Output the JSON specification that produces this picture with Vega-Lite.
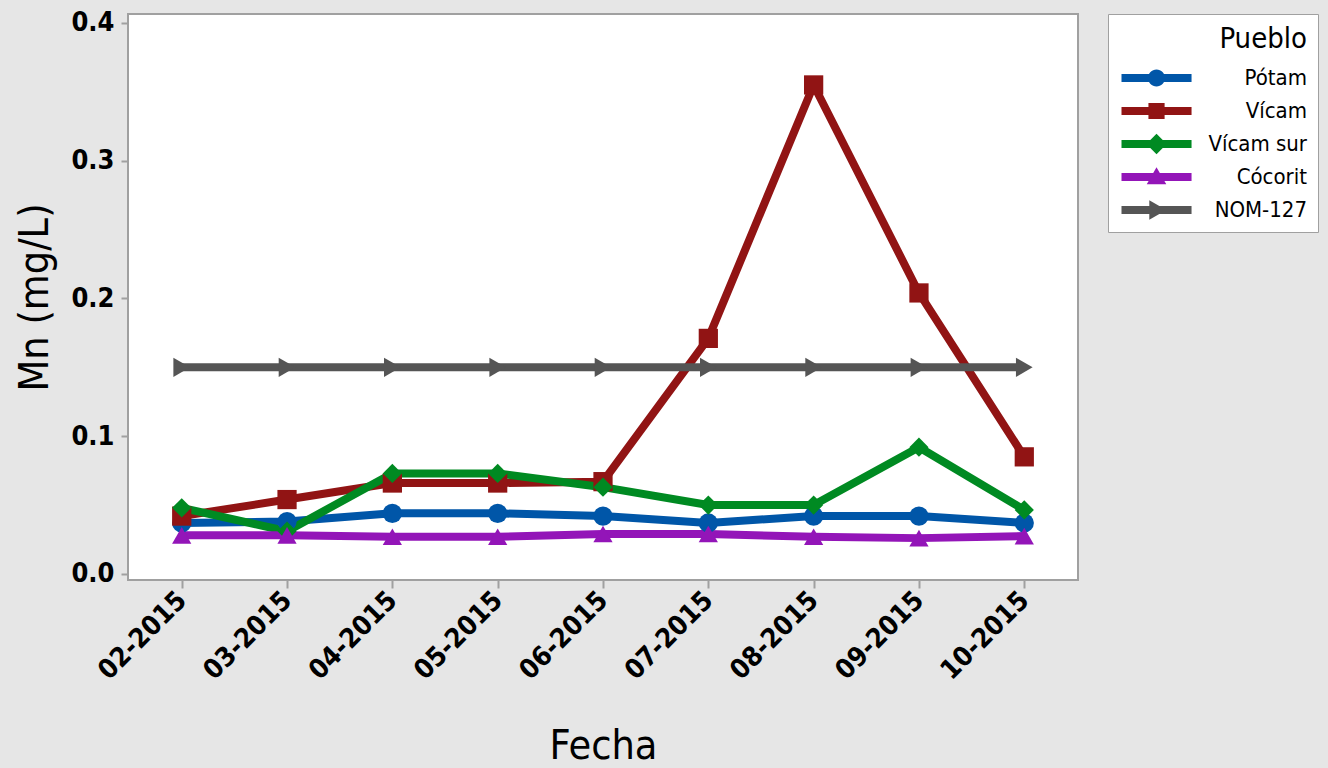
{
  "$schema": "https://vega.github.io/schema/vega-lite/v6.json",
  "width": 950,
  "height": 566,
  "autosize": {"type": "none"},
  "padding": {"left": 128, "top": 14, "right": 250, "bottom": 188},
  "background": "#e6e6e6",
  "config": {
    "view": {"fill": "white", "stroke": "#a0a0a0", "strokeWidth": 2},
    "font": "DejaVu Sans Condensed",
    "legend": {
      "orient": "right",
      "offset": 30,
      "padding": 11,
      "strokeColor": "#a0a0a0",
      "fillColor": "white",
      "titleFont": "DejaVu Sans Condensed",
      "titleFontSize": 29,
      "titleFontWeight": "normal",
      "titleColor": "black",
      "titleAlign": "right",
      "titleAnchor": "end",
      "titlePadding": 13,
      "labelFont": "DejaVu Sans Condensed",
      "labelFontSize": 22,
      "labelColor": "black",
      "labelAlign": "right",
      "labelOffset": 166,
      "symbolSize": 289,
      "symbolOpacity": 1,
      "symbolStrokeWidth": 0,
      "rowPadding": 11
    }
  },
  "data": {
    "values": [
      {"Fecha": "02-2015", "Pueblo": "Pótam", "Mn": 0.037},
      {"Fecha": "03-2015", "Pueblo": "Pótam", "Mn": 0.038},
      {"Fecha": "04-2015", "Pueblo": "Pótam", "Mn": 0.044},
      {"Fecha": "05-2015", "Pueblo": "Pótam", "Mn": 0.044},
      {"Fecha": "06-2015", "Pueblo": "Pótam", "Mn": 0.042},
      {"Fecha": "07-2015", "Pueblo": "Pótam", "Mn": 0.037},
      {"Fecha": "08-2015", "Pueblo": "Pótam", "Mn": 0.042},
      {"Fecha": "09-2015", "Pueblo": "Pótam", "Mn": 0.042},
      {"Fecha": "10-2015", "Pueblo": "Pótam", "Mn": 0.037},
      {"Fecha": "02-2015", "Pueblo": "Vícam", "Mn": 0.042},
      {"Fecha": "03-2015", "Pueblo": "Vícam", "Mn": 0.054},
      {"Fecha": "04-2015", "Pueblo": "Vícam", "Mn": 0.066},
      {"Fecha": "05-2015", "Pueblo": "Vícam", "Mn": 0.066},
      {"Fecha": "06-2015", "Pueblo": "Vícam", "Mn": 0.067},
      {"Fecha": "07-2015", "Pueblo": "Vícam", "Mn": 0.171},
      {"Fecha": "08-2015", "Pueblo": "Vícam", "Mn": 0.355},
      {"Fecha": "09-2015", "Pueblo": "Vícam", "Mn": 0.204},
      {"Fecha": "10-2015", "Pueblo": "Vícam", "Mn": 0.085},
      {"Fecha": "02-2015", "Pueblo": "Vícam sur", "Mn": 0.048},
      {"Fecha": "03-2015", "Pueblo": "Vícam sur", "Mn": 0.031},
      {"Fecha": "04-2015", "Pueblo": "Vícam sur", "Mn": 0.073},
      {"Fecha": "05-2015", "Pueblo": "Vícam sur", "Mn": 0.073},
      {"Fecha": "06-2015", "Pueblo": "Vícam sur", "Mn": 0.063},
      {"Fecha": "07-2015", "Pueblo": "Vícam sur", "Mn": 0.050},
      {"Fecha": "08-2015", "Pueblo": "Vícam sur", "Mn": 0.050},
      {"Fecha": "09-2015", "Pueblo": "Vícam sur", "Mn": 0.092},
      {"Fecha": "10-2015", "Pueblo": "Vícam sur", "Mn": 0.0465},
      {"Fecha": "02-2015", "Pueblo": "Cócorit", "Mn": 0.028},
      {"Fecha": "03-2015", "Pueblo": "Cócorit", "Mn": 0.028},
      {"Fecha": "04-2015", "Pueblo": "Cócorit", "Mn": 0.027},
      {"Fecha": "05-2015", "Pueblo": "Cócorit", "Mn": 0.027},
      {"Fecha": "06-2015", "Pueblo": "Cócorit", "Mn": 0.029},
      {"Fecha": "07-2015", "Pueblo": "Cócorit", "Mn": 0.029},
      {"Fecha": "08-2015", "Pueblo": "Cócorit", "Mn": 0.027},
      {"Fecha": "09-2015", "Pueblo": "Cócorit", "Mn": 0.026},
      {"Fecha": "10-2015", "Pueblo": "Cócorit", "Mn": 0.0275},
      {"Fecha": "02-2015", "Pueblo": "NOM-127", "Mn": 0.15},
      {"Fecha": "03-2015", "Pueblo": "NOM-127", "Mn": 0.15},
      {"Fecha": "04-2015", "Pueblo": "NOM-127", "Mn": 0.15},
      {"Fecha": "05-2015", "Pueblo": "NOM-127", "Mn": 0.15},
      {"Fecha": "06-2015", "Pueblo": "NOM-127", "Mn": 0.15},
      {"Fecha": "07-2015", "Pueblo": "NOM-127", "Mn": 0.15},
      {"Fecha": "08-2015", "Pueblo": "NOM-127", "Mn": 0.15},
      {"Fecha": "09-2015", "Pueblo": "NOM-127", "Mn": 0.15},
      {"Fecha": "10-2015", "Pueblo": "NOM-127", "Mn": 0.15}
    ]
  },
  "encoding": {
    "x": {
      "field": "Fecha",
      "type": "ordinal",
      "sort": null,
      "scale": {"type": "point", "padding": 0.51},
      "axis": {
        "title": "Fecha",
        "grid": false,
        "domain": false,
        "tickColor": "#a0a0a0",
        "tickWidth": 2,
        "tickSize": 8,
        "labelAngle": -45,
        "labelAlign": "right",
        "labelBaseline": "middle",
        "labelPadding": 8,
        "labelFont": "DejaVu Sans Condensed",
        "labelFontWeight": "bold",
        "labelFontSize": 27,
        "labelColor": "black",
        "titleFont": "DejaVu Sans Condensed",
        "titleFontSize": 41,
        "titleFontWeight": "normal",
        "titleColor": "black",
        "titlePadding": 42
      }
    },
    "y": {
      "field": "Mn",
      "type": "quantitative",
      "scale": {"domain": [-0.0044, 0.4065], "nice": false, "zero": false},
      "axis": {
        "title": "Mn (mg/L)",
        "grid": false,
        "domain": false,
        "values": [0, 0.1, 0.2, 0.3, 0.4],
        "format": ".1f",
        "tickColor": "#a0a0a0",
        "tickWidth": 2,
        "tickSize": 7,
        "labelPadding": 7,
        "labelFont": "DejaVu Sans Condensed",
        "labelFontWeight": "bold",
        "labelFontSize": 27,
        "labelColor": "black",
        "titleFont": "DejaVu Sans Condensed",
        "titleFontSize": 41,
        "titleFontWeight": "normal",
        "titleColor": "black",
        "titlePadding": 14
      }
    }
  },
  "layer": [
    {
      "mark": {"type": "point", "filled": true, "opacity": 0},
      "encoding": {
        "color": {
          "field": "Pueblo",
          "type": "nominal",
          "title": "Pueblo",
          "scale": {
            "domain": ["Pótam", "Vícam", "Vícam sur", "Cócorit", "NOM-127"],
            "range": ["#0056a8", "#911414", "#008a22", "#9315b8", "#555555"]
          }
        },
        "shape": {
          "field": "Pueblo",
          "type": "nominal",
          "title": "Pueblo",
          "scale": {
            "domain": ["Pótam", "Vícam", "Vícam sur", "Cócorit", "NOM-127"],
            "range": [
              "M-1,-0.47H7.24V0.47H-1Z M4.12,0A1,1 0 1,1 2.12,0A1,1 0 1,1 4.12,0Z",
              "M-1,-0.47H7.24V0.47H-1Z M2.17,-0.95H4.07V0.95H2.17Z",
              "M-1,-0.47H7.24V0.47H-1Z M3.12,-1.2L4.32,0L3.12,1.2L1.92,0Z",
              "M-1,-0.47H7.24V0.47H-1Z M3.12,-1.15L4.27,0.85L1.97,0.85Z",
              "M-1,-0.47H7.24V0.47H-1Z M4.27,0L2.27,1.15L2.27,-1.15Z"
            ]
          }
        }
      }
    },
    {
      "mark": {"type": "line", "strokeWidth": 8, "strokeJoin": "round"},
      "encoding": {
        "color": {
          "field": "Pueblo",
          "type": "nominal",
          "legend": null,
          "scale": {
            "domain": ["Pótam", "Vícam", "Vícam sur", "Cócorit", "NOM-127"],
            "range": ["#0056a8", "#911414", "#008a22", "#9315b8", "#555555"]
          }
        }
      }
    },
    {
      "mark": {"type": "point", "filled": true, "opacity": 1, "size": 370},
      "encoding": {
        "color": {
          "field": "Pueblo",
          "type": "nominal",
          "legend": null,
          "scale": {
            "domain": ["Pótam", "Vícam", "Vícam sur", "Cócorit", "NOM-127"],
            "range": ["#0056a8", "#911414", "#008a22", "#9315b8", "#555555"]
          }
        },
        "shape": {
          "field": "Pueblo",
          "type": "nominal",
          "legend": null,
          "scale": {
            "domain": ["Pótam", "Vícam", "Vícam sur", "Cócorit", "NOM-127"],
            "range": ["circle", "square", "diamond", "triangle-up", "triangle-right"]
          }
        }
      }
    }
  ],
  "resolve": {"scale": {"color": "independent", "shape": "independent"}}
}
